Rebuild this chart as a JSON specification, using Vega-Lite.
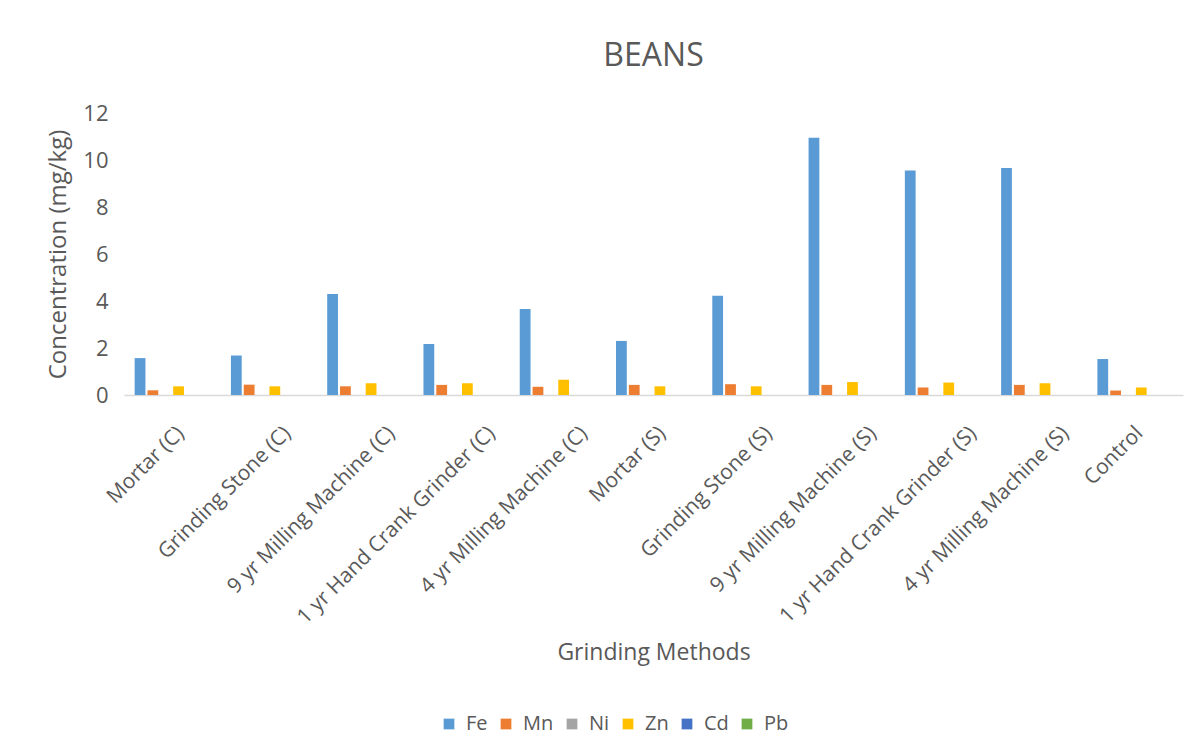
{
  "$schema": "https://vega.github.io/schema/vega-lite/v6.json",
  "width": 1059,
  "height": 282,
  "autosize": "none",
  "padding": {"left": 124, "top": 113, "right": 17, "bottom": 361},
  "background": "white",
  "title": {"text": "BEANS", "fontSize": 32, "font": "Open Sans", "fontWeight": "normal", "color": "#595959", "offset": 29, "anchor": "middle"},
  "config": {"view": {"stroke": null}, "font": "Open Sans"},
  "data": {"values": [
    {"method": "Mortar (C)", "metal": "Fe", "value": 1.57},
    {"method": "Mortar (C)", "metal": "Mn", "value": 0.2},
    {"method": "Mortar (C)", "metal": "Ni", "value": 0},
    {"method": "Mortar (C)", "metal": "Zn", "value": 0.37},
    {"method": "Mortar (C)", "metal": "Cd", "value": 0},
    {"method": "Mortar (C)", "metal": "Pb", "value": 0},
    {"method": "Grinding Stone (C)", "metal": "Fe", "value": 1.68},
    {"method": "Grinding Stone (C)", "metal": "Mn", "value": 0.44},
    {"method": "Grinding Stone (C)", "metal": "Ni", "value": 0},
    {"method": "Grinding Stone (C)", "metal": "Zn", "value": 0.37},
    {"method": "Grinding Stone (C)", "metal": "Cd", "value": 0},
    {"method": "Grinding Stone (C)", "metal": "Pb", "value": 0},
    {"method": "9 yr Milling Machine (C)", "metal": "Fe", "value": 4.3},
    {"method": "9 yr Milling Machine (C)", "metal": "Mn", "value": 0.37},
    {"method": "9 yr Milling Machine (C)", "metal": "Ni", "value": 0},
    {"method": "9 yr Milling Machine (C)", "metal": "Zn", "value": 0.5},
    {"method": "9 yr Milling Machine (C)", "metal": "Cd", "value": 0},
    {"method": "9 yr Milling Machine (C)", "metal": "Pb", "value": 0},
    {"method": "1 yr Hand Crank Grinder (C)", "metal": "Fe", "value": 2.17},
    {"method": "1 yr Hand Crank Grinder (C)", "metal": "Mn", "value": 0.43},
    {"method": "1 yr Hand Crank Grinder (C)", "metal": "Ni", "value": 0},
    {"method": "1 yr Hand Crank Grinder (C)", "metal": "Zn", "value": 0.5},
    {"method": "1 yr Hand Crank Grinder (C)", "metal": "Cd", "value": 0},
    {"method": "1 yr Hand Crank Grinder (C)", "metal": "Pb", "value": 0},
    {"method": "4 yr Milling Machine (C)", "metal": "Fe", "value": 3.66},
    {"method": "4 yr Milling Machine (C)", "metal": "Mn", "value": 0.35},
    {"method": "4 yr Milling Machine (C)", "metal": "Ni", "value": 0},
    {"method": "4 yr Milling Machine (C)", "metal": "Zn", "value": 0.65},
    {"method": "4 yr Milling Machine (C)", "metal": "Cd", "value": 0},
    {"method": "4 yr Milling Machine (C)", "metal": "Pb", "value": 0},
    {"method": "Mortar (S)", "metal": "Fe", "value": 2.3},
    {"method": "Mortar (S)", "metal": "Mn", "value": 0.43},
    {"method": "Mortar (S)", "metal": "Ni", "value": 0},
    {"method": "Mortar (S)", "metal": "Zn", "value": 0.37},
    {"method": "Mortar (S)", "metal": "Cd", "value": 0},
    {"method": "Mortar (S)", "metal": "Pb", "value": 0},
    {"method": "Grinding Stone (S)", "metal": "Fe", "value": 4.22},
    {"method": "Grinding Stone (S)", "metal": "Mn", "value": 0.46},
    {"method": "Grinding Stone (S)", "metal": "Ni", "value": 0},
    {"method": "Grinding Stone (S)", "metal": "Zn", "value": 0.37},
    {"method": "Grinding Stone (S)", "metal": "Cd", "value": 0},
    {"method": "Grinding Stone (S)", "metal": "Pb", "value": 0},
    {"method": "9 yr Milling Machine (S)", "metal": "Fe", "value": 10.95},
    {"method": "9 yr Milling Machine (S)", "metal": "Mn", "value": 0.43},
    {"method": "9 yr Milling Machine (S)", "metal": "Ni", "value": 0},
    {"method": "9 yr Milling Machine (S)", "metal": "Zn", "value": 0.55},
    {"method": "9 yr Milling Machine (S)", "metal": "Cd", "value": 0},
    {"method": "9 yr Milling Machine (S)", "metal": "Pb", "value": 0},
    {"method": "1 yr Hand Crank Grinder (S)", "metal": "Fe", "value": 9.55},
    {"method": "1 yr Hand Crank Grinder (S)", "metal": "Mn", "value": 0.32},
    {"method": "1 yr Hand Crank Grinder (S)", "metal": "Ni", "value": 0},
    {"method": "1 yr Hand Crank Grinder (S)", "metal": "Zn", "value": 0.53},
    {"method": "1 yr Hand Crank Grinder (S)", "metal": "Cd", "value": 0},
    {"method": "1 yr Hand Crank Grinder (S)", "metal": "Pb", "value": 0},
    {"method": "4 yr Milling Machine (S)", "metal": "Fe", "value": 9.66},
    {"method": "4 yr Milling Machine (S)", "metal": "Mn", "value": 0.43},
    {"method": "4 yr Milling Machine (S)", "metal": "Ni", "value": 0},
    {"method": "4 yr Milling Machine (S)", "metal": "Zn", "value": 0.5},
    {"method": "4 yr Milling Machine (S)", "metal": "Cd", "value": 0},
    {"method": "4 yr Milling Machine (S)", "metal": "Pb", "value": 0},
    {"method": "Control", "metal": "Fe", "value": 1.53},
    {"method": "Control", "metal": "Mn", "value": 0.19},
    {"method": "Control", "metal": "Ni", "value": 0},
    {"method": "Control", "metal": "Zn", "value": 0.32},
    {"method": "Control", "metal": "Cd", "value": 0},
    {"method": "Control", "metal": "Pb", "value": 0}
  ]},
  "mark": {"type": "bar"},
  "encoding": {
    "x": {
      "field": "method", "type": "nominal", "sort": null,
      "scale": {"paddingInner": 0.2, "paddingOuter": 0.1},
      "axis": {
        "title": "Grinding Methods", "titleFontSize": 23, "titleFont": "Open Sans", "titleFontWeight": "normal", "titleColor": "#595959", "titlePadding": 46,
        "labelAngle": -45, "labelFontSize": 21, "labelColor": "#595959", "labelPadding": 27, "labelLimit": 400,
        "labelOffset": {"expr": "length(datum.label) * 1.3 - 12"},
        "domainColor": "#d9d9d9", "domainWidth": 1.5, "ticks": false
      }
    },
    "xOffset": {"field": "metal", "type": "nominal", "sort": ["Fe", "Mn", "Ni", "Zn", "Cd", "Pb"], "scale": {"paddingInner": 0.16, "paddingOuter": 0.08}},
    "y": {
      "field": "value", "type": "quantitative",
      "scale": {"domain": [0, 12]},
      "axis": {
        "title": "Concentration (mg/kg)", "titleFontSize": 24, "titleFont": "Open Sans", "titleFontWeight": "normal", "titleColor": "#595959", "titlePadding": 12,
        "values": [0, 2, 4, 6, 8, 10, 12], "labelFontSize": 22, "labelColor": "#595959", "labelPadding": 16,
        "domain": false, "ticks": false, "grid": false
      }
    },
    "color": {
      "field": "metal", "type": "nominal",
      "sort": ["Fe", "Mn", "Ni", "Zn", "Cd", "Pb"],
      "scale": {"domain": ["Fe", "Mn", "Ni", "Zn", "Cd", "Pb"], "range": ["#5B9BD5", "#ED7D31", "#A5A5A5", "#FFC000", "#4472C4", "#70AD47"]},
      "legend": {
        "title": null, "orient": "none", "legendX": 315, "legendY": 601, "direction": "horizontal", "symbolType": "square", "symbolSize": 115, "symbolStrokeWidth": 0,
        "labelFontSize": 20, "labelColor": "#595959", "labelOffset": 7, "columnPadding": 8
      }
    }
  }
}
